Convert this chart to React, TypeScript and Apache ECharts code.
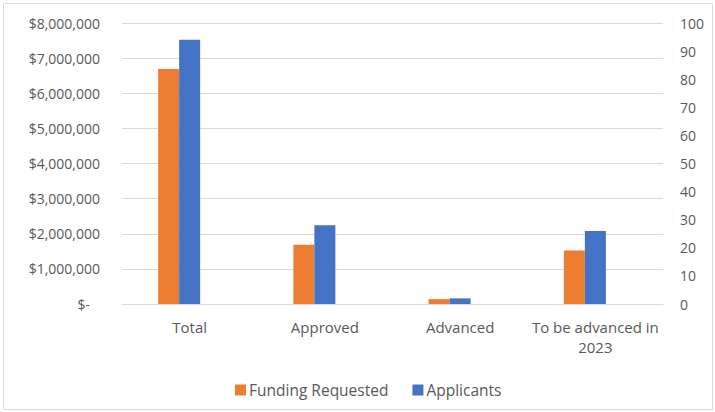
import React, { useEffect, useRef } from "react";
import * as echarts from "echarts";

const categories = ["Total", "Approved", "Advanced", "To be advanced in 2023"];
const fundingRequested = [6690000, 1690000, 140000, 1525000];
const applicants = [94, 28, 2, 26];
const leftTicksMax = 8000000;
const leftTickStep = 1000000;
const rightTicksMax = 100;
const rightTickStep = 10;

const FONT = "'Open Sans', sans-serif";
const LABEL_COLOR = "#595959";
const GRID_COLOR = "#d9d9d9";

export default function App() {
  const ref = useRef<HTMLDivElement>(null);
  useEffect(() => {
    document.body.style.margin = "0";
    const chart = echarts.init(ref.current!, null, { renderer: "svg" });
    chart.setOption({
      animation: false,
      backgroundColor: "#ffffff",
      textStyle: { fontFamily: FONT },
      graphic: [
        {
          type: "rect",
          shape: { x: 3.5, y: 3.5, width: 709, height: 406 },
          style: { fill: "none", stroke: GRID_COLOR, lineWidth: 1 },
          silent: true,
        },
      ],
      grid: { left: 122, right: 52, top: 23, bottom: 108, containLabel: false },
      legend: {
        data: ["Funding Requested", "Applicants"],
        left: 230,
        top: 377,
        icon: "rect",
        itemWidth: 11,
        itemHeight: 11,
        itemGap: 24,
        textStyle: { color: LABEL_COLOR, fontSize: 15.5, fontFamily: FONT, padding: [0, 0, 0, -2] },
      },
      xAxis: {
        type: "category",
        data: categories,
        axisLine: { show: true, lineStyle: { color: GRID_COLOR, width: 1 } },
        axisTick: { show: false },
        axisLabel: {
          color: LABEL_COLOR,
          fontSize: 15,
          fontFamily: FONT,
          margin: 13,
          lineHeight: 20,
          interval: 0,
          formatter: (v: string) => v.replace(" 2023", "\n2023"),
        },
      },
      yAxis: [
        {
          type: "value",
          min: 0,
          max: leftTicksMax,
          interval: leftTickStep,
          axisLine: { show: false },
          axisTick: { show: false },
          splitLine: { lineStyle: { color: GRID_COLOR, width: 1 } },
          axisLabel: {
            color: LABEL_COLOR,
            fontSize: 14,
            fontFamily: FONT,
            margin: 22,
            formatter: (v: number) =>
              v === 0 ? "{z|$-}" : "$" + v.toLocaleString("en-US"),
            rich: {
              z: { color: LABEL_COLOR, fontSize: 14, fontFamily: FONT, padding: [0, 10, 0, 0] },
            },
          },
        },
        {
          type: "value",
          min: 0,
          max: rightTicksMax,
          interval: rightTickStep,
          position: "right",
          axisLine: { show: false },
          axisTick: { show: false },
          splitLine: { show: false },
          axisLabel: {
            color: LABEL_COLOR,
            fontSize: 14,
            fontFamily: FONT,
            margin: 17,
          },
        },
      ],
      series: [
        {
          name: "Funding Requested",
          type: "bar",
          yAxisIndex: 0,
          data: fundingRequested,
          barWidth: 21,
          barGap: "0%",
          itemStyle: { color: "#ED7D31" },
        },
        {
          name: "Applicants",
          type: "bar",
          yAxisIndex: 1,
          data: applicants,
          barWidth: 21,
          barGap: "0%",
          itemStyle: { color: "#4472C4" },
        },
        {
          name: "spacer",
          type: "bar",
          yAxisIndex: 1,
          data: [],
          barWidth: 21,
          barGap: "0%",
          silent: true,
        },
      ],
    });
    return () => chart.dispose();
  }, []);
  return (
    <div
      ref={ref}
      style={{ position: "absolute", left: 0, top: 0, width: 715, height: 412 }}
    />
  );
}
